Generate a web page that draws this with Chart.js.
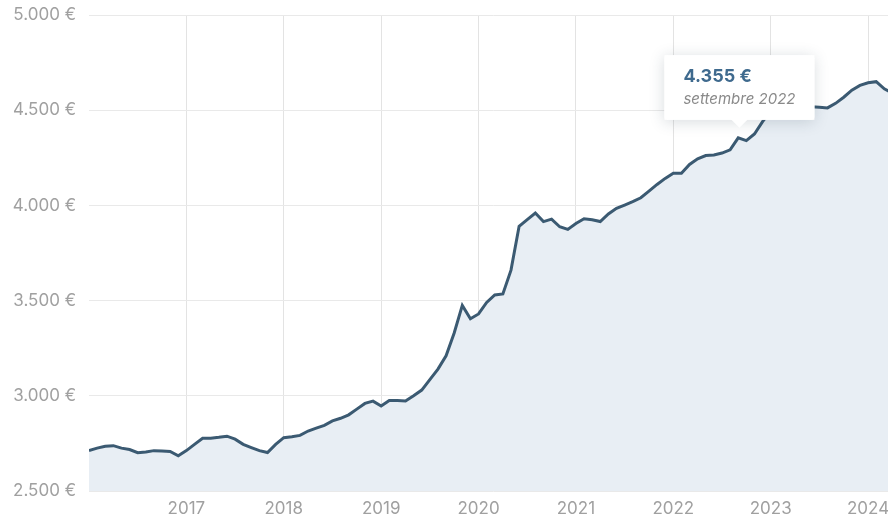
<!DOCTYPE html>
<html lang="it">
<head>
<meta charset="utf-8">
<title>Prezzo medio</title>
<script src="https://cdn.jsdelivr.net/npm/chart.js@4.4.1/dist/chart.umd.min.js"></script>
<style>
  html, body { margin: 0; padding: 0; background: #fff; overflow: hidden; }
  #wrap { width: 900px; height: 524px; position: relative; }
</style>
</head>
<body>
<div id="wrap"><canvas id="priceChart"></canvas></div>
<script>
// monthly values from gennaio 2016
const startYear = 2016;
const mesi = ["gennaio", "febbraio", "marzo", "aprile", "maggio", "giugno",
  "luglio", "agosto", "settembre", "ottobre", "novembre", "dicembre"];
const tickYears = [2017, 2018, 2019, 2020, 2021, 2022, 2023, 2024];
const yTicks = [2500, 3000, 3500, 4000, 4500, 5000];
const valori = [
  2712, 2725, 2735, 2738, 2725, 2718, 2701, 2705, 2712, 2710, 2708, 2685, // 2016
  2712, 2745, 2777, 2777, 2782, 2788, 2772, 2745, 2728, 2712, 2702, 2745, // 2017
  2780, 2785, 2792, 2815, 2830, 2845, 2868, 2882, 2900, 2930, 2960, 2972, // 2018
  2946, 2975, 2975, 2973, 3000, 3030, 3085, 3140, 3210, 3330, 3475, 3405, // 2019
  3430, 3490, 3530, 3535, 3660, 3890, 3925, 3960, 3915, 3928, 3888, 3874, // 2020
  3905, 3930, 3925, 3915, 3955, 3985, 4002, 4020, 4040, 4075, 4110, 4142, // 2021
  4169, 4169, 4215, 4245, 4262, 4265, 4275, 4292, 4355, 4340, 4375, 4440, // 2022
  4495, 4525, 4535, 4528, 4522, 4518, 4515, 4512, 4536, 4568, 4605, 4630, // 2023
  4644, 4650, 4612, 4590                                                   // 2024
];
const activeIndex = 80; // settembre 2022

function euro(v) {
  const s = String(Math.round(v)).replace(/\B(?=(\d{3})+(?!\d))/g, ".");
  return s + " €";
}

function monthLabel(i) {
  return mesi[i % 12] + " " + (startYear + Math.floor(i / 12));
}

const points = valori.map((v, i) => ({ x: i, y: v }));

// soft shadow under the tooltip box
const tooltipShadow = {
  id: "tooltipShadow",
  beforeTooltipDraw(chart, args) {
    const tt = args.tooltip;
    if (!tt.opacity) return;
    const ctx = chart.ctx;
    ctx.save();
    ctx.shadowColor = "rgba(40, 60, 80, 0.18)";
    ctx.shadowBlur = 14;
    ctx.shadowOffsetY = 2;
    ctx.fillStyle = "#fff";
    ctx.fillRect(tt.x, tt.y, tt.width, tt.height);
    ctx.restore();
  }
};

const tickFont = { family: "Inter, 'Open Sans', sans-serif", size: 17 };

const chart = new Chart(document.getElementById("priceChart"), {
  type: "line",
  data: {
    datasets: [{
      data: points,
      borderColor: "#3b5a72",
      backgroundColor: "#e8eef4",
      borderWidth: 3,
      fill: "start",
      tension: 0,
      pointRadius: 0,
      pointHoverRadius: 0
    }]
  },
  options: {
    responsive: true,
    maintainAspectRatio: false,
    animation: false,
    events: [],
    layout: { padding: { top: 15, right: 0, bottom: 0, left: 0 } },
    plugins: {
      legend: { display: false },
      tooltip: {
        enabled: true,
        animation: false,
        backgroundColor: "#ffffff",
        titleColor: "#3f6a8e",
        bodyColor: "#8a8a8a",
        titleFont: { family: "Inter, sans-serif", size: 18, weight: "bold" },
        bodyFont: { family: "Inter, sans-serif", size: 15, style: "italic" },
        titleMarginBottom: 3,
        padding: { left: 19, right: 19, top: 11, bottom: 11 },
        caretSize: 8,
        caretPadding: 10,
        cornerRadius: 3,
        displayColors: false,
        xAlign: "center",
        yAlign: "bottom",
        callbacks: {
          title: items => euro(items[0].parsed.y),
          label: item => monthLabel(item.dataIndex)
        }
      }
    },
    scales: {
      x: {
        type: "linear",
        min: 0,
        max: 99.75,
        border: { display: false },
        grid: {
          drawTicks: false,
          color: c => (c.tick && c.tick.value === 0) ? "rgba(0,0,0,0)" : "#e3e3e3"
        },
        ticks: {
          stepSize: 12,
          includeBounds: false,
          autoSkip: false,
          maxRotation: 0,
          padding: 8,
          color: "#a0a0a0",
          font: tickFont,
          callback: v => {
            const y = startYear + v / 12;
            return tickYears.includes(y) ? String(y) : "";
          }
        },
        afterFit: s => { s.height = 33; s.paddingLeft = 0; s.paddingRight = 0; }
      },
      y: {
        min: yTicks[0],
        max: yTicks[yTicks.length - 1],
        border: { display: false },
        grid: { drawTicks: false, color: "#e9e9e9" },
        afterBuildTicks: s => { s.ticks = yTicks.map(v => ({ value: v })); },
        ticks: {
          padding: 13,
          color: "#a0a0a0",
          font: tickFont,
          callback: v => euro(v)
        },
        afterFit: s => { s.width = 89; s.paddingTop = 0; s.paddingBottom = 0; }
      }
    }
  },
  plugins: [tooltipShadow]
});

chart.tooltip.setActiveElements([{ datasetIndex: 0, index: activeIndex }], { x: 0, y: 0 });
chart.update();
</script>
</body>
</html>
